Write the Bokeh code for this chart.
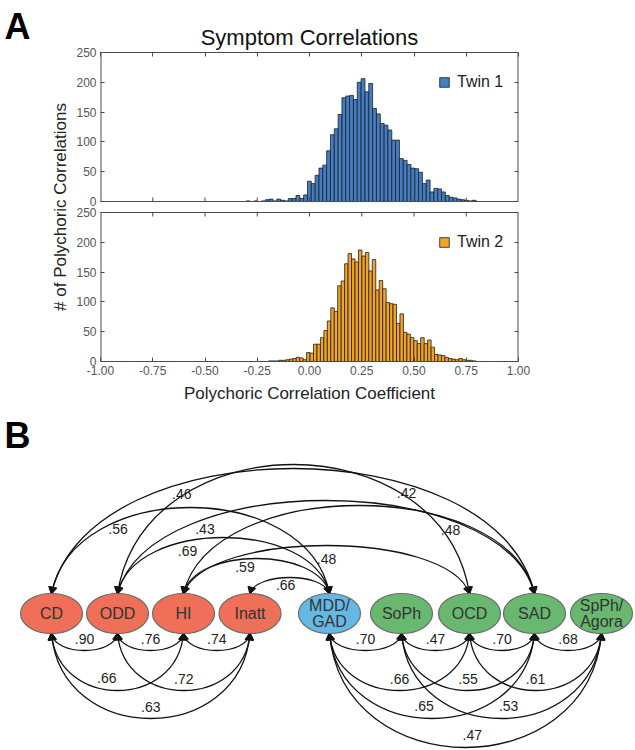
import numpy as np
from bokeh.plotting import figure
from bokeh.layouts import column, row
from bokeh.models import (Range1d, LinearAxis, FixedTicker, PrintfTickFormatter,
                          CustomJSTickFormatter, Legend, LegendItem)
from bokeh.core.properties import value
from bokeh.embed import file_html
from bokeh.resources import INLINE

FONT = "Liberation Sans"

# ---------------- Panel A data (60 equal bins over each sample's range) ----------------
twin1_range = (-0.303, 0.797)
twin1_counts = [1, 0, 1, 0, 1, 3, 4, 1, 4, 2,
                1, 5, 5, 10, 5, 11, 34, 30, 44, 56,
                61, 85, 112, 122, 146, 174, 177, 178, 171, 200,
                206, 184, 198, 156, 147, 131, 128, 120, 103, 103,
                72, 69, 62, 56, 55, 49, 30, 36, 16, 22,
                21, 16, 10, 7, 6, 4, 3, 2, 1, 2]
twin2_range = (-0.196, 0.797)
twin2_counts = [1, 1, 1, 2, 2, 3, 4, 5, 7, 6,
                3, 15, 14, 29, 29, 40, 52, 68, 90, 84,
                127, 135, 164, 181, 172, 167, 187, 177, 183, 152,
                171, 120, 136, 122, 99, 97, 96, 64, 80, 49,
                46, 40, 35, 30, 40, 30, 36, 24, 12, 11,
                10, 7, 5, 4, 3, 5, 3, 2, 2, 1]
x_ticks = [-1.0, -0.75, -0.5, -0.25, 0.0, 0.25, 0.5, 0.75, 1.0]
y_ticks = [0, 50, 100, 150, 200, 250]
y_ticks_right = [50, 100, 150, 200]
Y_MAX = 250

# ---------------- Panel B data ----------------
node_names = ["CD", "ODD", "HI", "Inatt", "MDD/GAD", "SoPh", "OCD", "SAD", "SpPh/Agora"]
node_text = ["CD", "ODD", "HI", "Inatt", "MDD/\nGAD", "SoPh", "OCD", "SAD", "SpPh/\nAgora"]
node_colors = ["#ef6f58"] * 4 + ["#66b8e4"] + ["#69b86f"] * 4

top_from = ["CD", "ODD", "CD", "ODD", "ODD", "HI", "HI", "Inatt", "HI"]
top_to = ["SAD", "OCD", "MDD/GAD", "SAD", "MDD/GAD", "OCD", "MDD/GAD", "MDD/GAD", "SAD"]
top_r = [".46", ".42", ".56", ".43", ".69", ".48", ".59", ".66", ".48"]

bot_from = ["CD", "ODD", "HI", "CD", "ODD", "CD",
            "MDD/GAD", "SoPh", "OCD", "SAD", "MDD/GAD", "SoPh", "OCD", "MDD/GAD", "SoPh", "MDD/GAD"]
bot_to = ["ODD", "HI", "Inatt", "HI", "Inatt", "Inatt",
          "SoPh", "OCD", "SAD", "SpPh/Agora", "OCD", "SAD", "SpPh/Agora", "SAD", "SpPh/Agora", "SpPh/Agora"]
bot_r = [".90", ".76", ".74", ".66", ".72", ".63",
         ".70", ".47", ".70", ".68", ".66", ".55", ".61", ".65", ".53", ".47"]

# ---------------- layout constants (pixels) ----------------
node_x = [51, 117, 183, 249.5, 329, 401, 469, 534, 601]
NODE_Y, RX, RY = -613, 31, 20
top_heights = [125, 129, 86, 93, 56, 48, 35, 16, 88]
top_label_frac = [0.27, 0.82, 0.24, 0.21, 0.33, 0.5, 0.42, 0.45, 0.76]
top_label_off = [11, -4, 8, 10, 10, 13, 8, 7, 11]
bot_label_frac = [0.5, 0.5, 0.5, 0.42, 0.5, 0.5,
                  0.5, 0.5, 0.5, 0.5, 0.5, 0.5, 0.5, 0.46, 0.535, 0.526]
bot_depth_by_level = {1: 17, 2: 57, 3: 85, 4: 114}
PANEL_PX, GAP_PX = 149, 11


def axis(ticks, labels=True, size="12px", line=True):
    ax = LinearAxis(ticker=FixedTicker(ticks=ticks), major_tick_in=4, major_tick_out=0,
                    minor_tick_line_color=None,
                    axis_line_color="#4a4a4a" if line else None,
                    major_tick_line_color="#4a4a4a")
    if labels:
        ax.major_label_text_font_size = size
        ax.major_label_text_color = "#555555"
        ax.major_label_text_font = FONT
        ax.major_label_standoff = 4
    else:
        ax.major_label_text_font_size = "0px"
        ax.major_label_text_color = None
        ax.major_label_standoff = 0
    return ax


# ---------------- Panel A: two stacked histogram panels sharing one y axis ----------------
OFF = Y_MAX * (PANEL_PX + GAP_PX) / PANEL_PX     # baseline of the upper (Twin 1) panel
pa = figure(width=587, height=406, x_range=Range1d(-1, 1), y_range=Range1d(0, OFF + Y_MAX),
            output_backend="svg", toolbar_location=None,
            x_axis_location=None, y_axis_location=None,
            min_border_left=47, min_border_right=117, min_border_top=52, min_border_bottom=45)
pa.grid.visible = False
pa.outline_line_color = None

e1 = np.linspace(twin1_range[0], twin1_range[1], len(twin1_counts) + 1)
e2 = np.linspace(twin2_range[0], twin2_range[1], len(twin2_counts) + 1)
r1 = pa.quad(left=e1[:-1], right=e1[1:], bottom=OFF, top=[OFF + c for c in twin1_counts],
             fill_color="#437dc3", line_color="#1e1e1e", line_width=0.8)
r2 = pa.quad(left=e2[:-1], right=e2[1:], bottom=0, top=twin2_counts,
             fill_color="#f3a326", line_color="#1e1e1e", line_width=0.8)

ly_ax = axis(y_ticks + [OFF + t for t in y_ticks], line=False)
ly_ax.formatter = CustomJSTickFormatter(args=dict(off=OFF),
                                        code="const v = tick > off - 1 ? tick - off : tick; return Math.round(v).toString();")
ly_ax.axis_label = "# of Polychoric Correlations"
ly_ax.axis_label_text_font_size = "17px"
ly_ax.axis_label_text_font_style = "normal"
ly_ax.axis_label_text_font = FONT
ly_ax.axis_label_text_color = "#222222"
ly_ax.axis_label_standoff = 3
pa.add_layout(ly_ax, "left")
pa.add_layout(axis(y_ticks_right + [OFF + t for t in y_ticks_right], labels=False, line=False), "right")
pa.add_layout(axis(x_ticks, labels=False), "above")
bx = axis(x_ticks)
bx.formatter = PrintfTickFormatter(format="%.2f")
bx.axis_label = "Polychoric Correlation Coefficient"
bx.axis_label_text_font_size = "17px"
bx.axis_label_text_font_style = "normal"
bx.axis_label_text_font = FONT
bx.axis_label_text_color = "#222222"
bx.axis_label_standoff = 6
pa.add_layout(bx, "below")

# panel frames: side edges, inner horizontal edges and their inward ticks
pa.segment(x0=[-1, -1, 1, 1], y0=[0, OFF, 0, OFF], x1=[-1, -1, 1, 1],
           y1=[Y_MAX, OFF + Y_MAX, Y_MAX, OFF + Y_MAX], line_color="#4a4a4a", line_width=2)
pa.segment(x0=[-1, -1], y0=[Y_MAX, OFF], x1=[1, 1], y1=[Y_MAX, OFF],
           line_color="#4a4a4a", line_width=1)
tick_len = 4 * Y_MAX / PANEL_PX
inner = x_ticks[1:-1]
pa.segment(x0=inner + inner, y0=[Y_MAX] * len(inner) + [OFF] * len(inner),
           x1=inner + inner, y1=[Y_MAX - tick_len] * len(inner) + [OFF + tick_len] * len(inner),
           line_color="#4a4a4a", line_width=1)

for rr, name, ypos in ((r1, "Twin 1", 270), (r2, "Twin 2", 110)):
    leg = Legend(items=[LegendItem(label=name, renderers=[rr])], location=(338, ypos),
                 border_line_color=None, background_fill_alpha=0, padding=0, margin=0,
                 glyph_width=12, glyph_height=12, label_standoff=7,
                 label_text_font_size="16px", label_text_font=FONT, label_text_color="#222222")
    pa.add_layout(leg)

pa.title.text = "Symptom Correlations"
pa.title.align = "center"
pa.title.text_font_size = "22px"
pa.title.text_font_style = "normal"
pa.title.text_font = FONT
pa.title.text_color = "#111111"
pa.title.standoff = 5

# left strip with the panel letter
lf = figure(width=48, height=406, x_range=Range1d(0, 48), y_range=Range1d(-406, 0),
            output_backend="svg", toolbar_location=None, x_axis_location=None,
            y_axis_location=None, min_border=0, min_border_left=0, min_border_right=0,
            min_border_top=0, min_border_bottom=0)
lf.grid.visible = False
lf.outline_line_color = None
lf.text(x=[4], y=[-5], text=["A"], text_font_size="36px", text_font_style="bold",
        text_baseline="top", text_align="left", text_font=value(FONT), text_color="black")

# ---------------- Panel B ----------------
d = figure(width=635, height=344, x_range=Range1d(0, 635), y_range=Range1d(-750, -406),
           output_backend="svg", toolbar_location=None, x_axis_location=None,
           y_axis_location=None, min_border=0, min_border_left=0, min_border_right=0,
           min_border_top=0, min_border_bottom=0)
d.grid.visible = False
d.outline_line_color = None
d.text(x=[4], y=[-414], text=["B"], text_font_size="36px", text_font_style="bold",
       text_baseline="top", text_align="left", text_font=value(FONT), text_color="black")

X = dict(zip(node_names, node_x))
IDX = {n: i for i, n in enumerate(node_names)}
ts = np.linspace(0, 1, 401)


def bez(p0, c0, c1, p3, t):
    mt = 1 - t
    return mt ** 3 * p0 + 3 * mt ** 2 * t * c0 + 3 * mt * t ** 2 * c1 + t ** 3 * p3


def arcs(froms, tos, ys, depths, slant, sign):
    geo = []
    ax, ay, aa = [], [], []
    for a, b, dep in zip(froms, tos, depths):
        xa, xb = X[a], X[b]
        span = xb - xa
        dd = sign * dep / 0.75
        c0 = (xa + slant * span, ys + dd)
        c1 = (xb - slant * span, ys + dd)
        geo.append((xa, xb, c0, c1))
        for (tx, ty), (cx, cy) in (((xa, ys), c0), ((xb, ys), c1)):
            vx, vy = tx - cx, ty - cy
            n = np.hypot(vx, vy)
            ax.append(tx - vx / n * 4)
            ay.append(ty - vy / n * 4)
            aa.append(np.arctan2(vy, vx) - np.pi / 2)
    d.bezier(x0=[g[0] for g in geo], y0=[ys] * len(geo), x1=[g[1] for g in geo], y1=[ys] * len(geo),
             cx0=[g[2][0] for g in geo], cy0=[g[2][1] for g in geo],
             cx1=[g[3][0] for g in geo], cy1=[g[3][1] for g in geo],
             line_color="#111111", line_width=1.3)
    d.scatter(x=ax, y=ay, angle=aa, marker="triangle", size=8,
              fill_color="#111111", line_color="#111111")
    return geo


def label_points(geo, ys, fracs, offs):
    lx, ly = [], []
    for (xa, xb, c0, c1), f, off in zip(geo, fracs, offs):
        bxs = bez(xa, c0[0], c1[0], xb, ts)
        bys = bez(ys, c0[1], c1[1], ys, ts)
        k = np.argmin(np.abs(bxs - (xa + f * (xb - xa))))
        lx.append(bxs[k]); ly.append(bys[k] - off)
    return lx, ly


top_y = NODE_Y + RY
bot_y = NODE_Y - RY

geo_t = arcs(top_from, top_to, top_y, top_heights, 0.08, 1)
lx, ly = label_points(geo_t, top_y, top_label_frac, top_label_off)
d.text(x=lx, y=ly, text=top_r, text_align="center", text_baseline="middle",
       text_font_size="14px", text_font=value(FONT), text_color="#222222")

bot_depths = [bot_depth_by_level[IDX[b] - IDX[a]] for a, b in zip(bot_from, bot_to)]
geo_b = arcs(bot_from, bot_to, bot_y, bot_depths, 0.05, -1)
lx, ly = label_points(geo_b, bot_y, bot_label_frac, [-12] * len(bot_r))
d.text(x=lx, y=ly, text=bot_r, text_align="center", text_baseline="middle",
       text_font_size="14px", text_font=value(FONT), text_color="#222222")

d.ellipse(x=node_x, y=NODE_Y, width=2 * RX, height=2 * RY, fill_color=node_colors,
          line_color="#6a6a6a", line_width=1.2)
d.text(x=node_x, y=NODE_Y, text=node_text, text_align="center", text_baseline="middle",
       text_font_size="16px", text_font=value(FONT), text_color="#333333",
       text_line_height=0.95)

layout = column(row(column(lf), column(pa)), d)
open("out.html", "w").write(file_html(layout, INLINE))
